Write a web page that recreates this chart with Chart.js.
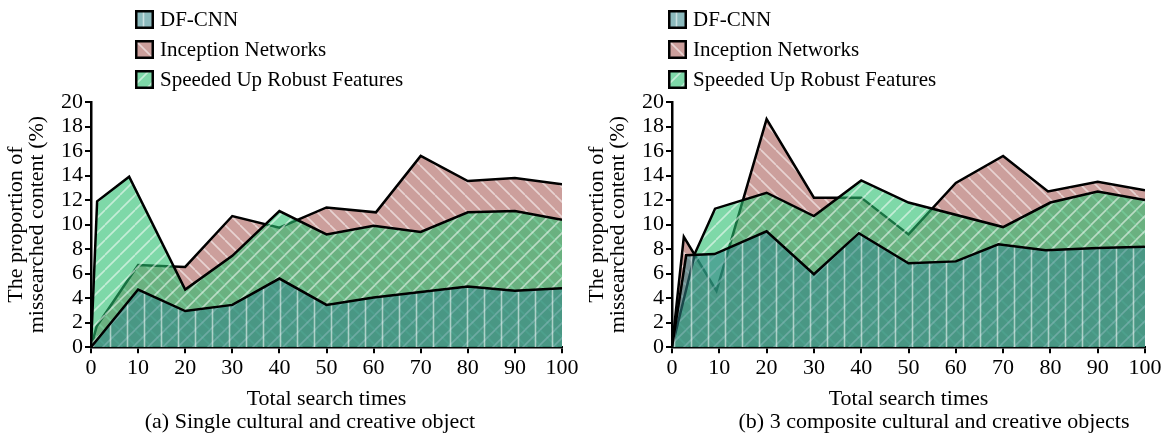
<!DOCTYPE html>
<html>
<head>
<meta charset="utf-8">
<script src="https://cdn.jsdelivr.net/npm/chart.js@4.4.0/dist/chart.umd.min.js"></script>
<style>
    body { margin: 0; background: #fff; }
    #wrap { position: relative; width: 1165px; height: 444px; overflow: hidden; font-family: 'Liberation Serif', 'Times New Roman', serif; color: #000; }
    canvas.chart { position: absolute; top: 0; }
    .legend { position: absolute; top: 4px; }
    .legend-row { display: flex; align-items: center; height: 30px; font-size: 21px; line-height: 21px; }
    .legend-row canvas { margin-right: 6px; }
    .caption { position: absolute; top: 408px; font-size: 22px; white-space: nowrap; transform: translateX(-50%); }
</style>
</head>
<body>
<div id="wrap">
    <canvas id="chart-a" class="chart" width="582" height="444" style="left:0"></canvas>
    <canvas id="chart-b" class="chart" width="584" height="444" style="left:581px"></canvas>
    <div class="legend" id="legend-a" style="left:135px"></div>
    <div class="legend" id="legend-b" style="left:668px"></div>
    <div class="caption" style="left:310px">(a) Single cultural and creative object</div>
    <div class="caption" style="left:934px">(b) 3 composite cultural and creative objects</div>
</div>
<script>
// series names
var seriesNames = ['DF-CNN', 'Inception Networks', 'Speeded Up Robust Features'];

// (a) single object - x is total search times, y is %
var dfcnnXA = [0, 10, 20, 30, 40, 50, 60, 70, 80, 90, 100];
var dfcnnYA = [0, 4.7, 2.95, 3.45, 5.6, 3.45, 4.05, 4.5, 4.95, 4.6, 4.8];
var inceptionXA = [0, 1.2, 10, 20, 30, 40, 50, 60.5, 70, 80, 90, 100];
var inceptionYA = [0, 1.7, 6.7, 6.55, 10.7, 9.75, 11.4, 11.0, 15.6, 13.55, 13.8, 13.3];
var surfXA = [0, 1.3, 8.1, 20, 30, 40, 50, 60, 70, 80, 90, 100];
var surfYA = [0, 11.9, 13.9, 4.7, 7.45, 11.1, 9.2, 9.9, 9.4, 11.0, 11.1, 10.4];

// (b) 3 composite objects
var dfcnnXB = [0, 3, 9, 20, 30, 39.5, 50, 60, 69, 79, 90, 100];
var dfcnnYB = [0, 7.5, 7.6, 9.45, 5.95, 9.3, 6.85, 7.0, 8.4, 7.9, 8.1, 8.2];
var inceptionXB = [0, 2.5, 9.4, 20, 30, 40, 50, 60, 70, 79.5, 90, 100];
var inceptionYB = [0, 9.0, 4.6, 18.6, 12.2, 12.2, 9.2, 13.4, 15.6, 12.7, 13.5, 12.8];
var surfXB = [0, 4.9, 9.1, 20, 30, 40, 50, 70, 80, 90, 100];
var surfYB = [0, 7.7, 11.3, 12.6, 10.7, 13.6, 11.8, 9.8, 11.8, 12.7, 12.0];

var FONT = "'Liberation Serif', 'Times New Roman', serif";

var styles = [
    { base: 'rgba(45, 130, 135, 0.55)', hatch: 'v' },
    { base: 'rgba(170, 95, 90, 0.6)', hatch: 'back' },
    { base: 'rgba(40, 190, 110, 0.6)', hatch: 'fwd' }
];

function hatchTile(base, dir) {
    var size = dir === 'v' ? 17 : 15;
    var c = document.createElement('canvas');
    c.width = size;
    c.height = size;
    var g = c.getContext('2d');
    g.fillStyle = base;
    g.fillRect(0, 0, size, size);
    g.strokeStyle = 'rgba(255, 255, 255, 0.55)';
    g.lineWidth = 1.6;
    g.beginPath();
    if (dir === 'v') {
        g.moveTo(size / 2, 0);
        g.lineTo(size / 2, size);
    } else {
        for (var k = -1; k <= 1; k++) {
            if (dir === 'back') {
                g.moveTo(k * size, 0);
                g.lineTo(k * size + size, size);
            } else {
                g.moveTo(k * size, size);
                g.lineTo(k * size + size, 0);
            }
        }
    }
    g.stroke();
    return c;
}

function toPoints(xs, ys) {
    return xs.map(function(x, i) { return { x: x, y: ys[i] }; });
}

function buildLegend(id) {
    var box = document.getElementById(id);
    seriesNames.forEach(function(name, i) {
        var row = document.createElement('div');
        row.className = 'legend-row';
        var sw = document.createElement('canvas');
        sw.width = 19;
        sw.height = 19;
        var g = sw.getContext('2d');
        g.fillStyle = g.createPattern(hatchTile(styles[i].base, styles[i].hatch), 'repeat');
        g.fillRect(0, 0, 19, 19);
        g.strokeStyle = '#000';
        g.lineWidth = 2.5;
        g.strokeRect(1.25, 1.25, 16.5, 16.5);
        row.appendChild(sw);
        var label = document.createElement('span');
        label.textContent = name;
        row.appendChild(label);
        box.appendChild(row);
    });
}

function drawChart(canvasId, series) {
    var ctx = document.getElementById(canvasId).getContext('2d');
    // draw order: Inception at the bottom, SURF over it, DF-CNN on top
    var orders = [0, 2, 1];
    var datasets = series.map(function(pts, i) {
        return {
            label: seriesNames[i],
            data: pts,
            order: orders[i],
            fill: 'origin',
            backgroundColor: ctx.createPattern(hatchTile(styles[i].base, styles[i].hatch), 'repeat'),
            borderColor: '#000',
            borderWidth: 2.5,
            pointRadius: 0,
            tension: 0
        };
    });

    return new Chart(ctx, {
        type: 'line',
        data: { datasets: datasets },
        options: {
            responsive: false,
            animation: false,
            layout: { padding: { top: 102, right: 20, bottom: 28, left: 0 } },
            plugins: {
                legend: { display: false },
                tooltip: { enabled: false }
            },
            scales: {
                x: {
                    type: 'linear',
                    min: 0,
                    max: 100,
                    ticks: { stepSize: 10, autoSkip: false, maxRotation: 0, color: '#000', padding: 2, font: { family: FONT, size: 22 } },
                    grid: { drawOnChartArea: false, drawTicks: true, tickLength: 6, color: '#000', lineWidth: 2 },
                    border: { color: '#000', width: 2.5 },
                    title: {
                        display: true,
                        text: 'Total search times',
                        color: '#000',
                        padding: { top: 2, bottom: 4 },
                        font: { family: FONT, size: 22 }
                    }
                },
                y: {
                    min: 0,
                    max: 20,
                    afterFit: function(scale) { scale.width = 91; },
                    ticks: { stepSize: 2, autoSkip: false, color: '#000', padding: 2, font: { family: FONT, size: 22, lineHeight: 1 } },
                    grid: { drawOnChartArea: false, drawTicks: true, tickLength: 6, color: '#000', lineWidth: 2 },
                    border: { color: '#000', width: 2.5 },
                    title: {
                        display: true,
                        text: ['The proportion of', 'missearched content (%)'],
                        color: '#000',
                        padding: { top: 6, bottom: 0 },
                        font: { family: FONT, size: 22, lineHeight: 0.95 }
                    }
                }
            }
        }
    });
}

drawChart('chart-a', [
    toPoints(dfcnnXA, dfcnnYA),
    toPoints(inceptionXA, inceptionYA),
    toPoints(surfXA, surfYA)
]);
drawChart('chart-b', [
    toPoints(dfcnnXB, dfcnnYB),
    toPoints(inceptionXB, inceptionYB),
    toPoints(surfXB, surfYB)
]);
buildLegend('legend-a');
buildLegend('legend-b');
</script>
</body>
</html>
